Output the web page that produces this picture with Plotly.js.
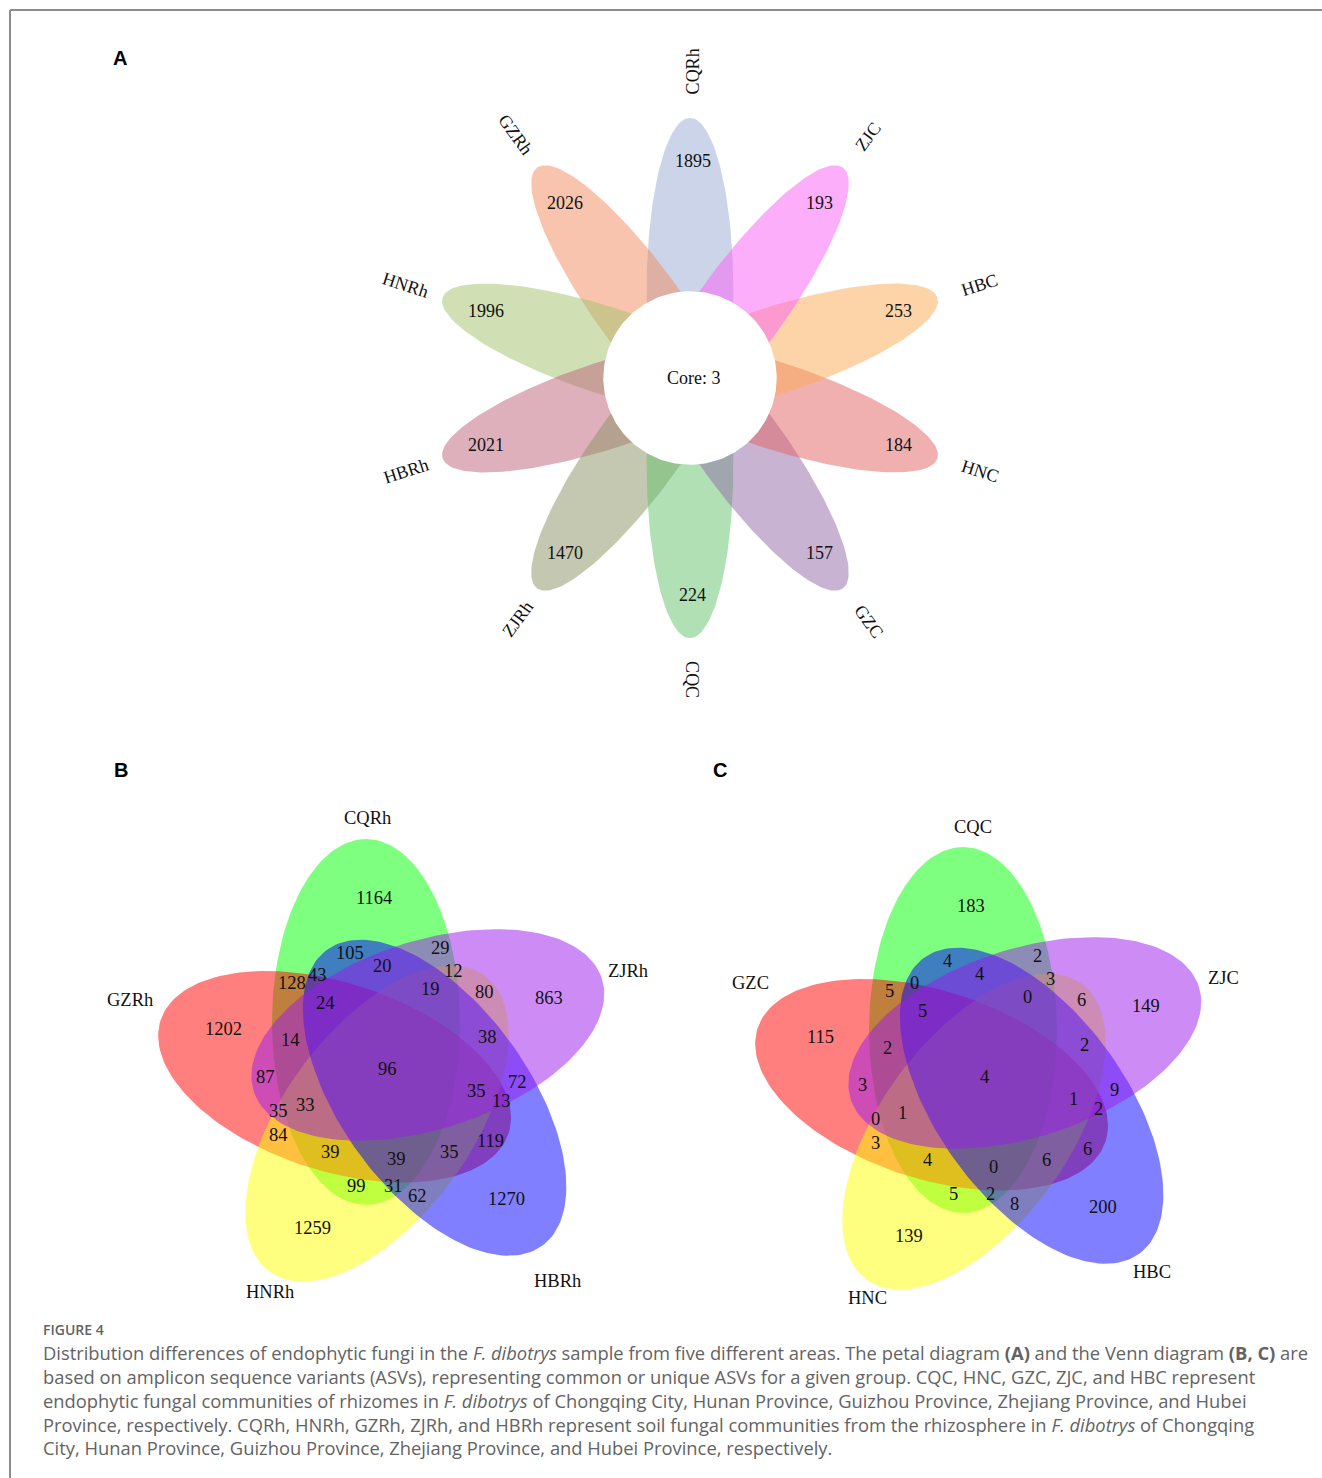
<!DOCTYPE html>
<html><head><meta charset="utf-8">
<script src="https://cdn.plot.ly/plotly-3.0.1.min.js"></script>
<style>html,body{margin:0;padding:0;background:#fff}#chart{width:1322px;height:1478px}</style>
</head><body><div id="chart"></div>
<script>
// ---------------- DATA ----------------
// Panel A: petal (flower) diagram, unique ASVs per group, drawn counter-clockwise from the top
const petalGroups = ["CQRh","GZRh","HNRh","HBRh","ZJRh","CQC","GZC","HNC","HBC","ZJC"];
const petalCounts = [1895, 2026, 1996, 2021, 1470, 224, 157, 184, 253, 193];
const coreCount = 3;

// Panel B: five-set Venn, rhizosphere soil (sets clockwise from top)
const vennBSets = ["CQRh","ZJRh","HBRh","HNRh","GZRh"];
const vennBCounts = [1164,105,29,20,12,43,128,19,80,863,24,1202,14,38,96,87,72,35,13,35,33,84,119,39,35,39,99,31,62,1270,1259];

// Panel C: five-set Venn, rhizome endophytes (same region order as B)
const vennCSets = ["CQC","ZJC","HBC","HNC","GZC"];
const vennCCounts = [183,4,2,4,3,0,5,0,6,149,5,115,2,2,4,3,9,1,2,0,1,3,6,4,6,0,5,2,8,200,139];

// ---------------- LAYOUT / STYLE (positions, sizes, colours) ----------------
const W = 1322, H = 1478;
const petalColors = ["rgba(151,169,209,0.5)","rgba(241,137,93,0.5)","rgba(161,193,105,0.5)","rgba(189,97,121,0.5)","rgba(137,145,97,0.5)",
                     "rgba(97,193,105,0.5)","rgba(145,105,165,0.5)","rgba(225,97,97,0.5)","rgba(251,169,81,0.5)","rgba(251,93,245,0.5)"];
const flower = {cx: 690, cy: 378, u: 86.7, textDX: 2.5};
// Venn ellipse colours in set order (top, upper-right, lower-right, lower-left, left)
const vennColors = ["rgba(0,255,0,0.5)","rgba(155,25,235,0.5)","rgba(0,0,255,0.5)","rgba(255,255,0,0.5)","rgba(255,0,0,0.5)"];
const vennDrawOrder = [0,4,3,2,1];
const vennGeom = {offX: -22, offY: -49, a: 183, b: 94};
const vennCentersB = [388, 1071], vennCentersC = [985, 1079];
// region label offsets relative to the diagram centre (same order as the count arrays)
const regionDX = [-14,-38,52,-6,65,-71,-96,42,96,161,-63,-165,-98,99,-1,-123,129,88,113,-110,-83,-110,102,-58,61,8,-32,5,29,118,-76];
const regionDY = [-173,-118,-123,-105,-100,-96,-88,-82,-79,-73,-68,-42,-31,-34,-2,6,11,20,30,40,34,64,70,81,81,88,115,115,125,128,157];
const setLabelPosB = [[367,818],[628,971],[557,1281],[270,1292],[130,1000]];
const setLabelPosC = [[973,827],[1223,978],[1152,1272],[867,1298],[750,983]];

const serif = "Liberation Serif, Times New Roman, serif";
const traces = [], ann = [], shapes = [];

function ellipsePts(cx, cy, a, b, ux, uy, n) {
  n = n || 180;
  const xs = [], ys = [], vx = -uy, vy = ux;
  for (let i = 0; i <= n; i++) {
    const s = 2 * Math.PI * i / n, p = a * Math.cos(s), q = b * Math.sin(s);
    xs.push(cx + p * ux + q * vx); ys.push(cy + p * uy + q * vy);
  }
  return {xs, ys};
}
function addFill(pts, fill) {
  traces.push({type: 'scatter', mode: 'lines', x: pts.xs, y: pts.ys, fill: 'toself', fillcolor: fill,
    line: {width: 0, color: 'rgba(0,0,0,0)'}, hoverinfo: 'skip', showlegend: false});
}
function addText(x, y, text, size, opts) {
  ann.push(Object.assign({x, y, xref: 'x', yref: 'y', text: String(text), showarrow: false,
    xanchor: 'center', yanchor: 'middle', font: {family: serif, size: size, color: '#111'}}, opts || {}));
}
const ctx = document.createElement('canvas').getContext('2d');
function textWidth(t, font) { ctx.font = font; return ctx.measureText(t).width; }

// ---------------- Panel A ----------------
const fs = 18;
petalGroups.forEach((g, t) => {
  const ang = (90 + 36 * t) * Math.PI / 180, ux = Math.cos(ang), uy = -Math.sin(ang);
  addFill(ellipsePts(flower.cx + flower.u * ux, flower.cy + flower.u * uy, 2 * flower.u, 0.5 * flower.u, ux, uy), petalColors[t]);
});
addFill(ellipsePts(flower.cx, flower.cy, flower.u, flower.u, 1, 0), '#ffffff');
petalGroups.forEach((g, t) => {
  const deg = 36 * t, ang = (90 + deg) * Math.PI / 180, ux = Math.cos(ang), uy = -Math.sin(ang);
  const tx = flower.cx + flower.textDX;
  addText(tx + 2.5 * flower.u * ux, flower.cy + 2.5 * flower.u * uy, petalCounts[t], fs);
  const inward = (deg > 0 && deg < 180);
  let srt = inward ? deg - 90 : deg + 90;
  let ta = -srt; while (ta > 180) ta -= 360; while (ta <= -180) ta += 360;
  const w = textWidth(g, fs + 'px "Liberation Serif"');
  const r = 3.3 * flower.u + w / 2 - (inward ? 8 : 3);
  addText(tx + r * ux, flower.cy + r * uy, g, fs, {textangle: ta});
});
addText(flower.cx + flower.textDX + 1, flower.cy, 'Core: ' + coreCount, fs);

// ---------------- Panels B and C ----------------
function drawVenn(center, sets, counts, labelPos) {
  const [cx, cy] = center;
  vennDrawOrder.forEach(k => {
    const th = 72 * k * Math.PI / 180, c = Math.cos(th), s = Math.sin(th);
    const ox = vennGeom.offX * c - vennGeom.offY * s, oy = vennGeom.offX * s + vennGeom.offY * c;
    const ux = s, uy = -c; // (0,-1) rotated clockwise by th
    addFill(ellipsePts(cx + ox, cy + oy, vennGeom.a, vennGeom.b, ux, uy), vennColors[k]);
  });
  counts.forEach((v, i) => addText(cx + regionDX[i], cy + regionDY[i], v, 18.5));
  sets.forEach((sname, i) => addText(labelPos[i][0], labelPos[i][1], sname, 18.5));
}
drawVenn(vennCentersB, vennBSets, vennBCounts, setLabelPosB);
drawVenn(vennCentersC, vennCSets, vennCCounts, setLabelPosC);

// panel letters
[['A',120,58],['B',121,770],['C',720,770]].forEach(p =>
  addText(p[1], p[2], '<b>' + p[0] + '</b>', 20, {font: {family: 'Liberation Sans, Arial, sans-serif', size: 20, color: '#000'}}));

// ---------------- Caption ----------------
const capLines = [
  "Distribution differences of endophytic fungi in the <i>F. dibotrys</i> sample from five different areas. The petal diagram <b>(A)</b> and the Venn diagram <b>(B, C)</b> are",
  "based on amplicon sequence variants (ASVs), representing common or unique ASVs for a given group. CQC, HNC, GZC, ZJC, and HBC represent",
  "endophytic fungal communities of rhizomes in <i>F. dibotrys</i> of Chongqing City, Hunan Province, Guizhou Province, Zhejiang Province, and Hubei",
  "Province, respectively. CQRh, HNRh, GZRh, ZJRh, and HBRh represent soil fungal communities from the rhizosphere in <i>F. dibotrys</i> of Chongqing",
  "City, Hunan Province, Guizhou Province, Zhejiang Province, and Hubei Province, respectively."
];
const capY = [1352, 1376, 1400, 1424, 1447];
const capTargetWidth = [1250, 1223, 1211, 1221];
const capFamily = 'Open Sans';
let sizes = capTargetWidth.map((tw, i) => 16 * tw / textWidth(capLines[i].replace(/<[^>]+>/g, ''), '16px "' + capFamily + '"'));
let capSize = sizes.reduce((a, b) => a + b, 0) / sizes.length;
if (!isFinite(capSize) || capSize < 10 || capSize > 22) capSize = 16;
capLines.forEach((t, i) => ann.push({x: 41, y: capY[i], xref: 'x', yref: 'y', text: t, showarrow: false,
  xanchor: 'left', yanchor: 'middle', font: {family: capFamily, size: capSize, color: '#636363'}}));
ann.push({x: 41, y: 1329, xref: 'x', yref: 'y', text: 'FIGURE 4', showarrow: false, xanchor: 'left', yanchor: 'middle',
  font: {family: capFamily, size: 14, color: '#636363', weight: 600}});

// frame
shapes.push({type: 'line', xref: 'x', yref: 'y', x0: 10, y0: 10, x1: 1322, y1: 10, line: {color: '#8c8c8c', width: 2}});
shapes.push({type: 'line', xref: 'x', yref: 'y', x0: 10, y0: 10, x1: 10, y1: 1478, line: {color: '#8c8c8c', width: 2}});

const layout = {
  width: W, height: H, margin: {l: 0, r: 0, t: 0, b: 0}, paper_bgcolor: '#fff', plot_bgcolor: '#fff',
  xaxis: {range: [0, W], visible: false, fixedrange: true},
  yaxis: {range: [H, 0], visible: false, fixedrange: true},
  showlegend: false, annotations: ann, shapes: shapes, hovermode: false
};
Plotly.newPlot('chart', traces, layout, {staticPlot: true, displayModeBar: false});
</script></body></html>
